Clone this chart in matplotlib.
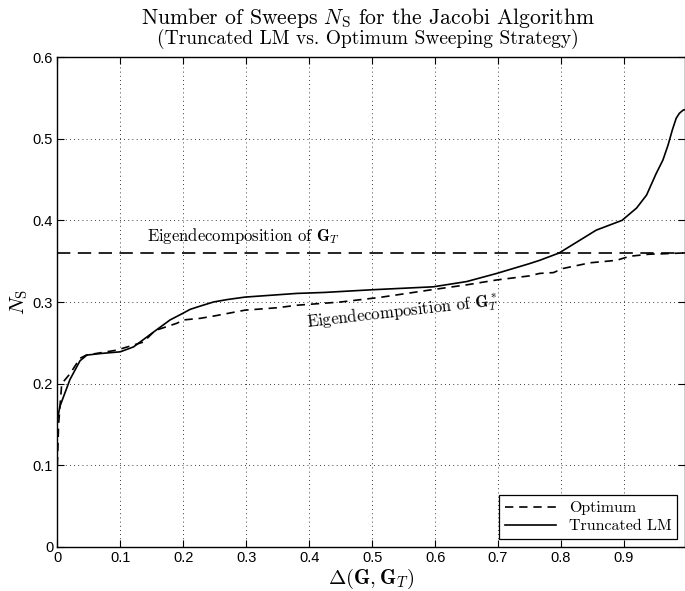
import matplotlib
matplotlib.use("Agg")
import matplotlib.pyplot as plt

# Optimum sweeping strategy (dashed)
x_opt = [0, 0.002, 0.007, 0.02, 0.036, 0.046, 0.07, 0.094, 0.137, 0.155, 0.19, 0.2, 0.227,
         0.25, 0.298, 0.35, 0.38, 0.45, 0.512, 0.591, 0.65, 0.698, 0.75, 0.766, 0.788,
         0.803, 0.846, 0.888, 0.909, 0.941, 0.961, 0.993, 1.0]
y_opt = [0.10, 0.15, 0.200, 0.212, 0.231, 0.235, 0.238, 0.241, 0.251, 0.265, 0.274, 0.278,
         0.280, 0.283, 0.290, 0.293, 0.296, 0.300, 0.3056, 0.3146, 0.321, 0.327, 0.332,
         0.335, 0.336, 0.341, 0.348, 0.351, 0.356, 0.3586, 0.359, 0.360, 0.360]

# Truncated LM (solid)
x_lm = [0, 0.004, 0.02, 0.036, 0.047, 0.07, 0.1, 0.121, 0.156, 0.179, 0.199, 0.211, 0.227,
        0.248, 0.27, 0.298, 0.38, 0.424, 0.5, 0.597, 0.65, 0.698, 0.75, 0.766, 0.797, 0.856,
        0.897, 0.92, 0.936, 0.951, 0.962, 0.970, 0.977, 0.983, 0.988, 0.994, 1.0]
y_lm = [0.155, 0.172, 0.205, 0.228, 0.235, 0.237, 0.239, 0.245, 0.265, 0.278, 0.286, 0.291,
        0.295, 0.300, 0.303, 0.306, 0.3105, 0.3117, 0.315, 0.3186, 0.325, 0.335, 0.347, 0.351,
        0.360, 0.388, 0.400, 0.415, 0.431, 0.457, 0.474, 0.492, 0.511, 0.525, 0.531, 0.535, 0.536]

eig_level = 0.36

xticks = [0, 0.1, 0.2, 0.3, 0.4, 0.5, 0.6, 0.7, 0.8, 0.9]
xticklabels = ["0", "0.1", "0.2", "0.3", "0.4", "0.5", "0.6", "0.7", "0.8", "0.9"]
yticks = [0, 0.1, 0.2, 0.3, 0.4, 0.5, 0.6]
yticklabels = ["0", "0.1", "0.2", "0.3", "0.4", "0.5", "0.6"]

plt.rcParams['mathtext.fontset'] = 'cm'
serif = 'cmr10'
sans = 'Liberation Sans'

fig = plt.figure(figsize=(6.85, 5.91), dpi=100)
ax = fig.add_axes([0.0837, 0.0745, 0.9163, 0.829])

ax.plot(x_opt, y_opt, color='k', lw=1.2, linestyle=(0, (5, 3.5)), label='Optimum')
ax.plot(x_lm, y_lm, color='k', lw=1.2, label='Truncated LM')
ax.axhline(eig_level, color='k', lw=1.2, linestyle=(0, (8, 4.5)))

ax.text(0.296, 0.381, r'Eigendecomposition of $\mathbf{G}_T$', family=serif, fontsize=12,
        ha='center', va='center')
ax.text(0.548, 0.287, r'Eigendecomposition of $\mathbf{G}_T^*$', family=serif, fontsize=12,
        ha='center', va='center', rotation=6.5)

ax.set_xlim(0, 0.997)
ax.set_ylim(0, 0.6)
ax.set_xticks(xticks)
ax.set_xticklabels(xticklabels, family=sans, fontsize=10.5)
ax.set_yticks(yticks)
ax.set_yticklabels(yticklabels, family=sans, fontsize=10.5)
ax.tick_params(direction='in', top=True, right=True, length=5, width=0.8, pad=3)
ax.grid(True, color='k', lw=0.6, linestyle=(0, (1, 4)))
for s in ax.spines.values():
    s.set_linewidth(1.0)

ax.set_xlabel(r'$\Delta(\mathbf{G},\mathbf{G}_T)$', fontsize=15, labelpad=1)
ax.set_ylabel(r'$N_\mathrm{S}$', fontsize=15, labelpad=2)

leg = ax.legend(loc='lower right', prop={'family': serif, 'size': 11.5}, fancybox=False,
                edgecolor='k', framealpha=1, handlelength=3.2, borderpad=0.35,
                labelspacing=0.25, borderaxespad=0.5)
leg.get_frame().set_linewidth(0.9)

# two-line title, second line smaller
fig.text(0.537, 0.959, r'Number of Sweeps $N_\mathrm{S}$ for the Jacobi Algorithm',
         family=serif, fontsize=15.6, ha='center', va='baseline')
fig.text(0.537, 0.926, '(Truncated LM vs. Optimum Sweeping Strategy)',
         family=serif, fontsize=14, ha='center', va='baseline')

fig.savefig('out.png', dpi=100)
